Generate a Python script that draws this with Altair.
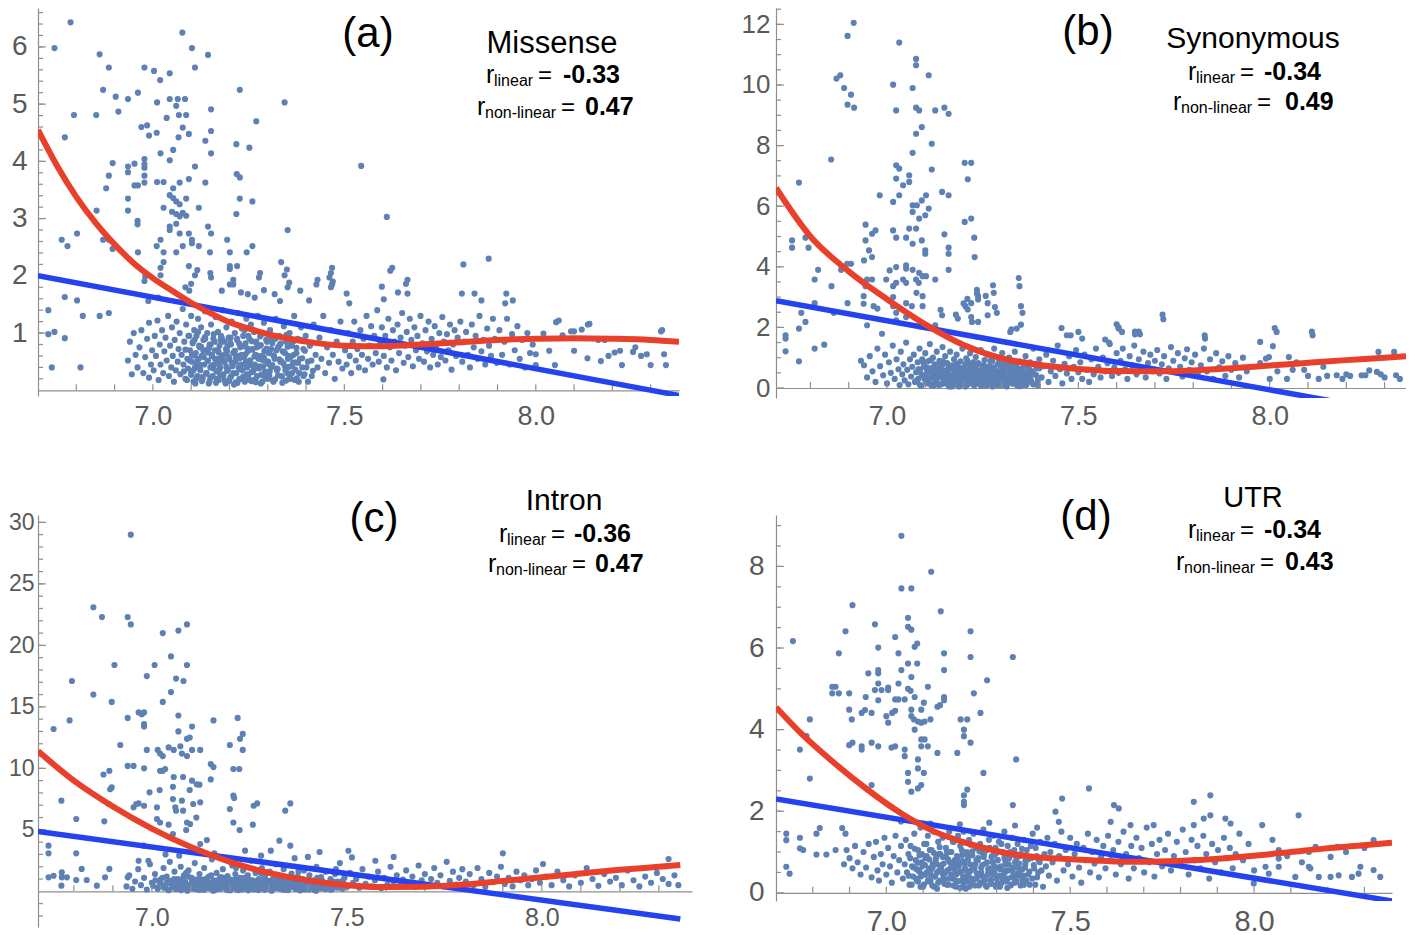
import altair as alt
import pandas as pd

FONT = "Liberation Sans"
PT_COLOR = "#5E81B5"
RED = "#E8402B"
BLUE = "#2442F0"
AXIS = "#8f8f8f"
LABEL = "#5a5a5a"

X_LABELS = [7.0, 7.5, 8.0]
X_MINOR = [6.8, 6.9, 7.0, 7.1, 7.2, 7.3, 7.4, 7.5, 7.6, 7.7, 7.8, 7.9, 8.0, 8.1, 8.2, 8.3]

# ---------------- panel (a) Missense ----------------
A_YLABELS = [1, 2, 3, 4, 5, 6]
A_YTICKS = [0.2, 0.4, 0.6, 0.8, 1, 1.2, 1.4, 1.6, 1.8, 2, 2.2, 2.4, 2.6, 2.8, 3, 3.2, 3.4, 3.6, 3.8, 4,
            4.2, 4.4, 4.6, 4.8, 5, 5.2, 5.4, 5.6, 5.8, 6, 6.2, 6.4, 6.6]
A_RED_X = [6.70, 6.75, 6.80, 6.85, 6.90, 6.95, 7.00, 7.05, 7.10, 7.15, 7.20, 7.25, 7.30, 7.35, 7.40, 7.50,
           7.60, 7.70, 7.80, 7.90, 8.00, 8.10, 8.20, 8.30, 8.374]
A_RED_Y = [4.55, 3.92, 3.38, 2.93, 2.55, 2.22, 1.96, 1.74, 1.53, 1.35, 1.19, 1.08, 0.98, 0.91, 0.85, 0.78,
           0.77, 0.80, 0.84, 0.88, 0.90, 0.91, 0.90, 0.88, 0.85]
A_BLUE_X = [6.70, 8.374]
A_BLUE_Y = [2.00, -0.09]
A_SPARSE = [
    (6.785, 6.43), (6.743, 5.98), (7.077, 6.25), (7.102, 5.98), (7.144, 5.86), (6.861, 5.87), (6.885, 5.64),
    (7.11, 5.64), (6.978, 5.64), (7.003, 5.58), (7.044, 5.54), (7.019, 5.42), (7.227, 5.25), (6.87, 5.25),
    (6.903, 5.13), (6.935, 5.09), (6.961, 5.2), (7.011, 5.03), (7.044, 5.09), (7.065, 5.09), (7.084, 5.09),
    (7.061, 4.97), (7.152, 4.91), (6.91, 4.87), (6.794, 4.81), (6.852, 4.81), (7.036, 4.76), (7.068, 4.81),
    (7.087, 4.81), (7.27, 4.7), (7.344, 5.03), (6.97, 4.6), (6.985, 4.63), (7.078, 4.59), (6.77, 4.42),
    (6.99, 4.45), (7.01, 4.5), (7.094, 4.48), (7.137, 4.36), (7.152, 4.53), (7.067, 4.42), (7.218, 4.3),
    (7.252, 4.24), (7.053, 4.2), (7.152, 4.14), (7.02, 4.14), (7.044, 4.02), (6.978, 4.04), (6.978, 3.95),
    (6.978, 3.89), (6.895, 3.97), (6.952, 3.96), (6.935, 3.91), (6.935, 3.81), (7.11, 3.91), (6.885, 3.75),
    (6.978, 3.75), (6.978, 3.63), (6.952, 3.58), (6.961, 3.58), (7.011, 3.64), (7.028, 3.64), (7.07, 3.63),
    (7.094, 3.69), (7.137, 3.63), (7.219, 3.78), (7.227, 3.72), (6.878, 3.53), (7.053, 3.53), (7.044, 3.41),
    (7.053, 3.36), (7.061, 3.3), (7.07, 3.25), (6.935, 3.35), (7.087, 3.35), (7.227, 3.35), (7.26, 3.3),
    (7.028, 3.19), (7.05, 3.12), (7.061, 3.08), (7.078, 3.1), (7.087, 3.05), (7.07, 3.04), (7.12, 3.19),
    (6.935, 3.14), (6.853, 3.14), (7.218, 3.08), (6.96, 2.96), (6.96, 2.9), (7.044, 2.86), (7.044, 2.8),
    (7.144, 2.86), (7.061, 2.91), (7.352, 2.8), (7.07, 2.74), (7.094, 2.74), (7.152, 2.74), (6.762, 2.63),
    (6.777, 2.52), (6.802, 2.74), (6.87, 2.63), (6.885, 2.63), (6.895, 2.47), (7.02, 2.63), (7.102, 2.63),
    (7.102, 2.57), (7.194, 2.63), (7.01, 2.52), (7.078, 2.52), (7.12, 2.52), (7.26, 2.52), (7.028, 2.41),
    (6.961, 2.41), (7.061, 2.41), (7.149, 2.41), (7.201, 2.41), (7.245, 2.41), (7.028, 2.24), (7.201, 2.17),
    (7.201, 2.12), (7.468, 2.14), (7.335, 2.24), (7.094, 2.17), (7.02, 2.01), (7.11, 2.01), (7.152, 1.97),
    (7.277, 1.97), (7.344, 2.01), (7.461, 1.97), (6.978, 1.91), (7.201, 1.85), (7.21, 1.85), (7.352, 1.8),
    (7.427, 1.85), (7.468, 1.85), (6.77, 1.63), (6.802, 1.57), (6.727, 1.4), (6.817, 1.3), (6.861, 1.3),
    (6.885, 1.35), (6.727, 0.98), (6.743, 1.02), (6.77, 0.91), (6.736, 0.4), (6.811, 0.4),
    (7.544, 3.92), (7.611, 3.03), (7.62, 2.09), (7.811, 2.2), (7.877, 2.3), (7.661, 1.86), (7.602, 0.19),
    (6.98, 1.99), (7.02, 2.14), (7.116, 2.1), (7.15, 2.05), (7.22, 2.17), (7.28, 2.05), (7.35, 2.11),
    (7.465, 2.05), (7.47, 1.9), (7.625, 2.14), (7.665, 1.93), (7.43, 1.93), (7.356, 1.88), (7.21, 1.93),
    (7.1, 1.86), (7.085, 1.8), (7.18, 1.74), (7.23, 1.71), (7.29, 1.75), (7.318, 1.68), (7.385, 1.74),
    (7.465, 1.8), (7.506, 1.69), (7.598, 1.81), (7.64, 1.71), (7.665, 1.69), (7.807, 1.69), (7.84, 1.69),
    (7.923, 1.69), (7.94, 1.57), (7.92, 1.52), (7.858, 1.57), (7.603, 1.59), (7.513, 1.52), (7.408, 1.57),
    (7.332, 1.56), (7.266, 1.62), (7.248, 1.68), (6.988, 1.56), (7.014, 1.62), (7.095, 1.74),
]
A_RIGHT = [
    (8.06, 1.22), (8.14, 1.16), (8.10, 1.03), (8.12, 1.06), (8.07, 0.96), (8.02, 0.99), (8.035, 0.69),
    (8.05, 0.44), (8.0, 0.44), (8.0, 0.63), (8.10, 0.69), (8.135, 0.56), (8.17, 0.51), (8.163, 0.88),
    (8.18, 0.88), (8.206, 0.66), (8.22, 0.69), (8.225, 0.44), (8.26, 0.75), (8.275, 0.6), (8.29, 0.63),
    (8.33, 1.05), (8.335, 0.63), (8.34, 0.44), (8.3, 0.44), (8.053, 1.19), (8.136, 1.15), (8.092, 1.03),
    (8.19, 0.6), (8.254, 0.67), (8.327, 1.03),
]
A_CLOUD = [
    (6.935, 0.52), (6.94, 0.85), (6.945, 0.28), (6.95, 1.0), (6.955, 0.62), (6.96, 0.4), (6.965, 0.75),
    (6.97, 1.05), (6.975, 0.3), (6.98, 0.58), (6.985, 0.9), (6.99, 0.22), (6.99, 1.18), (6.995, 0.45),
    (6.998, 0.7), (7.002, 0.35), (7.005, 0.95), (7.008, 0.6), (7.012, 1.22), (7.015, 0.18), (7.018, 0.8),
    (7.02, 0.45), (7.024, 1.05), (7.027, 0.3), (7.03, 0.68), (7.033, 0.92), (7.036, 0.52), (7.04, 1.3),
    (7.042, 0.25), (7.045, 0.78), (7.048, 0.4), (7.05, 1.1), (7.052, 0.6), (7.055, 0.15), (7.057, 0.88),
    (7.06, 0.35), (7.062, 1.2), (7.065, 0.5), (7.067, 0.72), (7.07, 1.0), (7.072, 0.28), (7.075, 0.62),
    (7.078, 1.42), (7.08, 0.45), (7.082, 0.85), (7.085, 0.2), (7.087, 1.15), (7.09, 0.55), (7.092, 0.38),
    (7.095, 0.95), (7.097, 0.7), (7.1, 0.3), (7.1, 1.3), (7.102, 0.5), (7.104, 0.82), (7.106, 0.15),
    (7.108, 1.05), (7.11, 0.4), (7.112, 0.65), (7.114, 0.95), (7.116, 0.25), (7.118, 1.25), (7.12, 0.55),
    (7.122, 0.75), (7.124, 0.35), (7.126, 1.1), (7.128, 0.6), (7.13, 0.2), (7.132, 0.88), (7.134, 0.45),
    (7.136, 1.38), (7.138, 0.7), (7.14, 0.3), (7.142, 1.0), (7.144, 0.52), (7.146, 0.12), (7.148, 0.8),
    (7.15, 0.4), (7.152, 1.15), (7.154, 0.62), (7.156, 0.25), (7.158, 0.9), (7.16, 0.45), (7.162, 0.7),
    (7.164, 1.28), (7.166, 0.33), (7.168, 0.55), (7.17, 1.02), (7.172, 0.18), (7.174, 0.78), (7.176, 0.4),
    (7.178, 0.95), (7.18, 0.6), (7.182, 1.4), (7.184, 0.28), (7.186, 0.85), (7.188, 0.5), (7.19, 0.12),
    (7.192, 1.1), (7.194, 0.68), (7.196, 0.36), (7.198, 0.92), (7.2, 0.55), (7.202, 0.22), (7.204, 0.8),
    (7.206, 1.2), (7.208, 0.42), (7.21, 0.65), (7.212, 0.1), (7.214, 1.0), (7.216, 0.5), (7.218, 0.3),
    (7.22, 0.88), (7.222, 1.35), (7.224, 0.6), (7.226, 0.2), (7.228, 0.75), (7.23, 0.45), (7.232, 1.08),
    (7.234, 0.35), (7.236, 0.95), (7.238, 0.58), (7.24, 0.15), (7.242, 0.82), (7.244, 1.25), (7.246, 0.4),
    (7.248, 0.68), (7.25, 0.27), (7.252, 0.9), (7.254, 0.52), (7.256, 1.15), (7.258, 0.32), (7.26, 0.72),
    (7.262, 0.18), (7.264, 1.02), (7.266, 0.45), (7.268, 0.62), (7.27, 0.85), (7.272, 0.25), (7.274, 1.3),
    (7.276, 0.55), (7.278, 0.38), (7.28, 0.78), (7.282, 0.12), (7.284, 0.98), (7.286, 0.6), (7.288, 0.42),
    (7.29, 1.18), (7.292, 0.28), (7.294, 0.7), (7.296, 0.88), (7.298, 0.5), (7.3, 0.2), (7.303, 0.65),
    (7.306, 1.05), (7.309, 0.4), (7.312, 0.82), (7.315, 0.15), (7.318, 0.55), (7.321, 1.25), (7.324, 0.35),
    (7.327, 0.75), (7.33, 0.95), (7.333, 0.5), (7.336, 0.25), (7.339, 0.68), (7.342, 1.12), (7.345, 0.42),
    (7.348, 0.85), (7.351, 0.3), (7.354, 0.6), (7.357, 1.0), (7.36, 0.2), (7.363, 0.78), (7.366, 0.48),
    (7.369, 1.3), (7.372, 0.36), (7.375, 0.65), (7.378, 0.9), (7.381, 0.15), (7.384, 0.55), (7.387, 1.1),
    (7.39, 0.4), (7.393, 0.72), (7.396, 0.28), (7.399, 0.95), (7.405, 0.5), (7.41, 0.8), (7.415, 0.25),
    (7.42, 1.15), (7.425, 0.62), (7.43, 0.4), (7.435, 0.92), (7.44, 0.55), (7.445, 1.3), (7.45, 0.3),
    (7.455, 0.75), (7.46, 0.48), (7.465, 1.05), (7.47, 0.62), (7.475, 0.2), (7.48, 0.85), (7.485, 0.5),
    (7.49, 1.2), (7.495, 0.38), (7.502, 0.7), (7.506, 0.45), (7.51, 1.0), (7.514, 0.6), (7.518, 0.3),
    (7.522, 0.85), (7.526, 1.2), (7.53, 0.52), (7.534, 0.72), (7.538, 0.4), (7.542, 1.05), (7.546, 0.62),
    (7.55, 0.9), (7.554, 0.35), (7.558, 1.3), (7.562, 0.55), (7.566, 0.78), (7.57, 1.12), (7.574, 0.45),
    (7.578, 0.95), (7.582, 0.65), (7.586, 1.4), (7.59, 0.5), (7.594, 0.82), (7.598, 1.1), (7.603, 0.6),
    (7.607, 0.95), (7.611, 0.4), (7.615, 1.25), (7.619, 0.75), (7.623, 0.52), (7.627, 1.05), (7.631, 0.85),
    (7.635, 0.35), (7.639, 1.15), (7.643, 0.65), (7.647, 0.92), (7.651, 1.35), (7.655, 0.48), (7.659, 0.78),
    (7.663, 1.02), (7.667, 0.58), (7.671, 1.25), (7.675, 0.88), (7.679, 0.42), (7.683, 1.1), (7.687, 0.7),
    (7.691, 0.95), (7.695, 0.55), (7.699, 1.3), (7.704, 0.82), (7.708, 0.5), (7.712, 1.05), (7.716, 0.68),
    (7.72, 1.2), (7.724, 0.4), (7.728, 0.9), (7.732, 0.62), (7.736, 1.12), (7.74, 0.78), (7.744, 0.45),
    (7.748, 1.0), (7.752, 0.58), (7.756, 1.28), (7.76, 0.85), (7.764, 0.52), (7.768, 0.98), (7.772, 0.7),
    (7.776, 1.15), (7.78, 0.36), (7.784, 0.8), (7.788, 1.05), (7.792, 0.6), (7.796, 0.92), (7.803, 1.2),
    (7.808, 0.5), (7.813, 0.85), (7.818, 1.02), (7.823, 0.62), (7.828, 0.4), (7.833, 1.15), (7.838, 0.75),
    (7.843, 0.95), (7.848, 0.55), (7.853, 1.3), (7.858, 0.68), (7.863, 0.88), (7.868, 0.45), (7.873, 1.08),
    (7.878, 0.78), (7.883, 0.6), (7.888, 1.25), (7.893, 0.9), (7.898, 0.48), (7.905, 1.05), (7.912, 0.62),
    (7.918, 0.85), (7.925, 1.25), (7.932, 0.45), (7.938, 0.98), (7.945, 0.7), (7.952, 1.12), (7.958, 0.55),
    (7.965, 0.88), (7.972, 0.4), (7.978, 1.0), (7.985, 0.65), (7.992, 0.8),
]
A_CORE = [
    (7.081, 0.33), (7.085, 0.71), (7.089, 0.18), (7.093, 0.95), (7.096, 0.52), (7.1, 0.27), (7.104, 0.84),
    (7.107, 0.61), (7.111, 0.12), (7.115, 0.47), (7.118, 1.02), (7.122, 0.39), (7.126, 0.76), (7.129, 0.23),
    (7.133, 0.58), (7.137, 0.9), (7.14, 0.3), (7.144, 0.66), (7.148, 0.15), (7.151, 0.8), (7.155, 0.43),
    (7.159, 0.98), (7.162, 0.55), (7.166, 0.2), (7.17, 0.7), (7.173, 0.36), (7.177, 0.88), (7.181, 0.5),
    (7.184, 0.25), (7.188, 0.63), (7.192, 0.41), (7.195, 0.77), (7.199, 0.16), (7.203, 0.92), (7.206, 0.48),
    (7.21, 0.3), (7.214, 0.69), (7.217, 0.57), (7.221, 0.13), (7.225, 0.82), (7.228, 0.37), (7.232, 0.62),
    (7.236, 0.24), (7.239, 1.05), (7.243, 0.5), (7.247, 0.73), (7.25, 0.19), (7.254, 0.44), (7.258, 0.86),
    (7.261, 0.32), (7.265, 0.59), (7.269, 0.14), (7.272, 0.75), (7.276, 0.4), (7.28, 0.94), (7.283, 0.27),
    (7.287, 0.53), (7.291, 0.68), (7.294, 0.21), (7.298, 0.85), (7.302, 0.46), (7.305, 0.33), (7.309, 0.72),
    (7.313, 0.17), (7.316, 0.6), (7.32, 0.9), (7.324, 0.38), (7.327, 0.26), (7.331, 0.79), (7.335, 0.51),
    (7.338, 0.13), (7.342, 0.67), (7.346, 0.35), (7.349, 0.97), (7.353, 0.55), (7.357, 0.22), (7.36, 0.8),
    (7.364, 0.43), (7.368, 0.62), (7.371, 0.18), (7.375, 0.74), (7.379, 0.48), (7.382, 0.3), (7.386, 0.88),
    (7.39, 0.56), (7.393, 0.25), (7.397, 0.69), (7.401, 0.4), (7.405, 0.15), (7.41, 0.78), (7.414, 0.52),
    (7.418, 0.34),
]
A_CORE2 = [
    (7.102, 0.62), (7.106, 0.35), (7.109, 0.88), (7.113, 0.2), (7.117, 0.55), (7.121, 0.78), (7.124, 0.44),
    (7.128, 0.16), (7.132, 0.69), (7.136, 0.93), (7.139, 0.29), (7.143, 0.51), (7.147, 0.74), (7.15, 0.22),
    (7.154, 0.6), (7.158, 0.38), (7.161, 0.85), (7.165, 0.13), (7.169, 0.47), (7.172, 0.66), (7.176, 0.27),
    (7.18, 0.91), (7.183, 0.53), (7.187, 0.17), (7.191, 0.72), (7.194, 0.34), (7.198, 0.58), (7.202, 0.83),
    (7.205, 0.25), (7.209, 0.46), (7.213, 0.68), (7.216, 0.14), (7.22, 0.9), (7.224, 0.4), (7.227, 0.56),
    (7.231, 0.2), (7.235, 0.77), (7.238, 0.45), (7.242, 0.63), (7.246, 0.28), (7.249, 0.95), (7.253, 0.52),
    (7.257, 0.16), (7.26, 0.71), (7.264, 0.36), (7.268, 0.84), (7.271, 0.23), (7.275, 0.6), (7.279, 0.42),
    (7.282, 0.79), (7.286, 0.15), (7.29, 0.57), (7.293, 0.33), (7.297, 0.73), (7.301, 0.5), (7.304, 0.26),
    (7.308, 0.88), (7.312, 0.44), (7.315, 0.61), (7.319, 0.19), (7.323, 0.7), (7.326, 0.37), (7.33, 0.54),
    (7.334, 0.82), (7.337, 0.24), (7.341, 0.47), (7.345, 0.65), (7.348, 0.17), (7.352, 0.76), (7.356, 0.41),
    (7.36, 0.58), (7.364, 0.3), (7.368, 0.86), (7.372, 0.49), (7.376, 0.21),
]

# ---------------- panel (b) Synonymous ----------------
B_YLABELS = [0, 2, 4, 6, 8, 10, 12]
B_YTICKS = [0.5, 1, 1.5, 2, 2.5, 3, 3.5, 4, 4.5, 5, 5.5, 6, 6.5, 7, 7.5, 8, 8.5, 9, 9.5, 10, 10.5, 11, 11.5,
            12, 12.5]
B_RED_X = [6.71, 6.80, 6.90, 7.00, 7.10, 7.20, 7.30, 7.40, 7.50, 7.60, 7.70, 7.80, 7.90, 8.00, 8.10, 8.20,
           8.30, 8.356]
B_RED_Y = [6.6, 5.0, 3.85, 2.93, 2.1, 1.42, 0.98, 0.76, 0.63, 0.56, 0.55, 0.58, 0.65, 0.74, 0.83, 0.92,
           1.0, 1.05]
B_BLUE_X = [6.71, 8.356]
B_BLUE_Y = [2.88, -0.87]
B_SPARSE = [
    (6.913, 12.05), (6.897, 11.62), (7.032, 11.4), (7.076, 10.86), (7.076, 10.65), (7.109, 10.32),
    (6.868, 10.21), (6.878, 10.32), (7.016, 10.01), (6.888, 9.9), (7.067, 9.9), (6.906, 9.68), (6.897, 9.35),
    (6.914, 9.25), (7.024, 9.16), (7.076, 9.25), (7.084, 9.16), (7.126, 9.16), (7.15, 9.25), (7.161, 9.05),
    (7.091, 8.61), (7.076, 8.39), (7.117, 8.06), (7.067, 7.76), (6.854, 7.54), (7.203, 7.43), (7.22, 7.43),
    (7.024, 7.35), (7.032, 7.24), (7.117, 7.21), (7.211, 6.89), (7.058, 7.02), (7.058, 6.8), (7.042, 6.69),
    (6.77, 6.78), (7.024, 6.91), (7.144, 6.47), (7.161, 6.36), (6.981, 6.36), (7.016, 6.14), (7.032, 6.36),
    (7.067, 6.03), (7.078, 6.03), (7.091, 6.19), (7.102, 6.36), (7.109, 5.92), (7.067, 5.81), (7.084, 5.59),
    (7.1, 5.7), (7.203, 5.48), (7.22, 5.59), (6.944, 5.39), (7.058, 5.26), (7.076, 5.26), (6.787, 4.96),
    (6.752, 4.87), (6.752, 4.63), (6.944, 4.87), (6.961, 5.09), (6.97, 5.2), (7.016, 5.2), (7.024, 4.96),
    (7.05, 4.96), (7.15, 5.07), (7.228, 4.96), (6.795, 4.63), (6.953, 4.54), (6.961, 4.32), (7.067, 4.76),
    (7.091, 4.87), (7.1, 4.54), (7.1, 4.43), (7.161, 4.63), (7.161, 4.43), (7.229, 4.32), (7.007, 3.88),
    (7.024, 3.99), (7.05, 4.05), (7.05, 3.94), (6.94, 4.21), (6.896, 4.1), (6.906, 4.1), (6.88, 3.9),
    (6.811, 3.58), (6.82, 3.9), (6.855, 3.36), (6.948, 3.58), (6.961, 3.58), (6.998, 3.58), (7.024, 3.47),
    (7.042, 3.58), (7.05, 3.47), (7.067, 3.9), (7.084, 3.8), (7.093, 3.69), (7.102, 3.69), (7.076, 3.58),
    (7.083, 3.47), (7.161, 3.9), (7.126, 3.58), (6.944, 3.36), (7.016, 3.36), (7.077, 3.14), (7.093, 3.03),
    (6.939, 3.03), (6.939, 2.78), (7.016, 3.0), (7.238, 3.03), (7.238, 2.92), (7.279, 3.14), (7.263, 2.8),
    (7.346, 3.36), (7.354, 2.48), (6.811, 2.8), (6.897, 2.8), (6.965, 2.7), (6.975, 2.62), (7.016, 2.7),
    (7.05, 2.8), (7.065, 2.7), (7.093, 2.7), (7.205, 2.7), (7.211, 2.59), (7.22, 2.8), (7.287, 2.48),
    (6.776, 2.48), (6.787, 2.18), (6.77, 1.96), (6.735, 1.74), (6.735, 1.63), (6.735, 1.21), (6.77, 0.88),
    (6.811, 1.3), (6.836, 1.43), (6.861, 2.48), (6.948, 2.07), (6.987, 1.79), (7.024, 2.48), (7.024, 2.23),
    (7.05, 2.34), (7.144, 2.4), (7.185, 2.29), (7.222, 2.18), (7.238, 2.18), (7.263, 2.4), (7.322, 1.85),
    (7.339, 1.96), (7.126, 2.07), (7.722, 2.27), (7.605, 1.96), (7.614, 1.85), (7.648, 1.77), (7.661, 1.77),
    (7.831, 1.63), (7.57, 1.6), (7.58, 1.5), (7.51, 1.63), (7.50, 1.85), (7.344, 3.63), (7.35, 2.7),
    (7.277, 3.39), (7.258, 3.04), (7.235, 3.24), (7.235, 3.12), (7.2, 2.79), (7.21, 2.94), (7.22, 2.34),
    (7.14, 2.58), (7.18, 2.42), (7.282, 2.67), (7.325, 1.94), (7.35, 2.09), (7.456, 1.98), (7.47, 1.74),
    (7.48, 1.74), (7.6, 2.1), (7.605, 2.0), (7.648, 1.86), (7.658, 1.86), (7.72, 2.42), (7.83, 1.74),
    (8.013, 1.98), (8.11, 1.86),
]
B_CLOUD = [
    (6.932, 0.9), (6.94, 0.75), (6.948, 0.35), (6.955, 1.05), (6.962, 0.55), (6.97, 0.2), (6.975, 1.3),
    (6.982, 0.72), (6.99, 0.42), (6.995, 1.1), (7.0, 0.15), (7.005, 0.85), (7.01, 0.5), (7.015, 1.4),
    (7.02, 0.3), (7.025, 0.95), (7.03, 0.62), (7.033, 0.1), (7.036, 1.2), (7.04, 0.45), (7.043, 0.78),
    (7.046, 0.25), (7.05, 1.5), (7.053, 0.6), (7.056, 0.12), (7.06, 0.95), (7.063, 0.38), (7.066, 0.7),
    (7.07, 1.1), (7.073, 0.2), (7.076, 0.52), (7.08, 0.85), (7.082, 0.3), (7.085, 1.3), (7.087, 0.62),
    (7.09, 0.08), (7.092, 0.95), (7.095, 0.42), (7.097, 0.72), (7.1, 1.15), (7.102, 0.2), (7.105, 0.55),
    (7.107, 0.88), (7.11, 0.32), (7.112, 1.45), (7.115, 0.65), (7.117, 0.12), (7.12, 1.0), (7.122, 0.45),
    (7.125, 0.78), (7.127, 0.25), (7.13, 1.2), (7.132, 0.58), (7.135, 0.1), (7.137, 0.9), (7.14, 0.38),
    (7.142, 0.7), (7.145, 1.35), (7.147, 0.18), (7.15, 0.5), (7.152, 1.05), (7.155, 0.3), (7.157, 0.82),
    (7.16, 0.6), (7.162, 0.05), (7.165, 1.2), (7.167, 0.42), (7.17, 0.75), (7.172, 0.22), (7.175, 0.95),
    (7.177, 0.55), (7.18, 0.12), (7.182, 1.1), (7.185, 0.35), (7.187, 0.68), (7.19, 0.15), (7.192, 0.88),
    (7.195, 0.48), (7.197, 1.3), (7.2, 0.28), (7.202, 0.62), (7.205, 0.05), (7.207, 0.98), (7.21, 0.4),
    (7.212, 0.78), (7.215, 0.18), (7.217, 1.15), (7.22, 0.55), (7.222, 0.32), (7.225, 0.85), (7.227, 0.1),
    (7.23, 0.68), (7.232, 1.02), (7.235, 0.25), (7.237, 0.5), (7.24, 0.8), (7.242, 0.12), (7.245, 1.25),
    (7.247, 0.4), (7.25, 0.65), (7.252, 0.2), (7.255, 0.92), (7.257, 0.52), (7.26, 0.08), (7.262, 1.1),
    (7.265, 0.35), (7.267, 0.72), (7.27, 0.45), (7.272, 0.18), (7.275, 0.88), (7.277, 0.6), (7.28, 1.3),
    (7.283, 0.28), (7.286, 0.55), (7.289, 0.1), (7.292, 0.95), (7.295, 0.4), (7.298, 0.7), (7.301, 1.15),
    (7.304, 0.2), (7.307, 0.5), (7.31, 0.82), (7.313, 0.05), (7.316, 0.62), (7.319, 1.0), (7.322, 0.32),
    (7.325, 0.75), (7.328, 0.15), (7.331, 0.45), (7.334, 1.2), (7.338, 0.58), (7.342, 0.25), (7.346, 0.88),
    (7.35, 0.42), (7.354, 0.1), (7.358, 0.7), (7.362, 1.05), (7.366, 0.3), (7.37, 0.52), (7.374, 0.85),
    (7.378, 0.18), (7.382, 1.3), (7.386, 0.45), (7.39, 0.65), (7.394, 0.08), (7.398, 0.95), (7.404, 0.35),
    (7.41, 0.72), (7.416, 1.1), (7.422, 0.2), (7.428, 0.55), (7.434, 0.9), (7.44, 0.4), (7.446, 1.4),
    (7.452, 0.62), (7.458, 0.15), (7.464, 0.8), (7.47, 0.48), (7.476, 1.05), (7.482, 0.3), (7.488, 0.7),
    (7.494, 1.25), (7.5, 0.52), (7.505, 0.85), (7.51, 0.3), (7.516, 1.1), (7.522, 0.6), (7.528, 0.2),
    (7.534, 0.95), (7.54, 0.45), (7.546, 1.3), (7.552, 0.7), (7.558, 0.35), (7.564, 1.0), (7.57, 0.55),
    (7.576, 0.82), (7.582, 1.45), (7.588, 0.4), (7.594, 0.68), (7.6, 1.15), (7.605, 0.5), (7.61, 0.9),
    (7.616, 1.3), (7.622, 0.62), (7.628, 0.3), (7.634, 1.05), (7.64, 0.75), (7.646, 1.4), (7.652, 0.45),
    (7.658, 0.95), (7.664, 0.6), (7.67, 1.2), (7.676, 0.35), (7.682, 0.82), (7.688, 1.1), (7.694, 0.55),
    (7.7, 0.9), (7.706, 1.25), (7.712, 0.48), (7.718, 0.78), (7.724, 1.05), (7.73, 0.3), (7.736, 0.65),
    (7.742, 1.35), (7.748, 0.9), (7.754, 0.52), (7.76, 1.15), (7.766, 0.7), (7.772, 0.38), (7.778, 0.98),
    (7.784, 1.28), (7.79, 0.6), (7.796, 0.85), (7.805, 1.1), (7.812, 0.45), (7.82, 0.75), (7.828, 1.3),
    (7.836, 0.55), (7.844, 0.95), (7.852, 0.3), (7.86, 1.15), (7.868, 0.68), (7.876, 0.88), (7.884, 0.4),
    (7.892, 1.05), (7.9, 0.6), (7.91, 0.82), (7.92, 0.35), (7.93, 1.0), (7.94, 0.55), (7.975, 0.82),
    (7.99, 0.97), (7.975, 1.52), (8.0, 0.3), (8.02, 0.55), (8.045, 0.3), (8.06, 0.6), (8.09, 0.6), (8.1, 0.4),
    (8.128, 0.3), (8.15, 0.4), (8.175, 0.42), (8.19, 0.3), (8.2, 0.45), (8.21, 0.4), (8.24, 0.42),
    (8.25, 0.42), (8.26, 0.58), (8.28, 0.53), (8.29, 0.45), (8.33, 0.42), (8.284, 1.19), (8.325, 1.19),
    (8.018, 1.85), (8.112, 1.74), (8.05, 1.02), (7.998, 1.02), (8.008, 1.38), (8.07, 0.85), (8.14, 0.7),
    (8.3, 0.35), (8.34, 0.3),
]
B_CORE = [
    (7.078, 0.25), (7.082, 0.62), (7.086, 0.1), (7.09, 0.45), (7.094, 0.85), (7.098, 0.3), (7.102, 0.68),
    (7.106, 0.15), (7.11, 0.52), (7.114, 0.92), (7.118, 0.38), (7.122, 0.08), (7.126, 0.6), (7.13, 0.27),
    (7.134, 0.75), (7.138, 0.45), (7.142, 0.12), (7.146, 0.88), (7.15, 0.33), (7.154, 0.58), (7.158, 0.2),
    (7.162, 0.7), (7.166, 0.42), (7.17, 0.05), (7.174, 0.62), (7.178, 0.3), (7.182, 0.8), (7.186, 0.5),
    (7.19, 0.22), (7.194, 0.65), (7.198, 0.4), (7.202, 0.1), (7.206, 0.55), (7.21, 0.9), (7.214, 0.28),
    (7.218, 0.7), (7.222, 0.45), (7.226, 0.15), (7.23, 0.6), (7.234, 0.35), (7.238, 0.82), (7.242, 0.5),
    (7.246, 0.07), (7.25, 0.42), (7.254, 0.72), (7.258, 0.25), (7.262, 0.58), (7.266, 0.12), (7.27, 0.9),
    (7.274, 0.38), (7.278, 0.62), (7.282, 0.2), (7.286, 0.48), (7.29, 0.78), (7.294, 0.3), (7.298, 0.1),
    (7.302, 0.55), (7.306, 0.35), (7.31, 0.68), (7.314, 0.22), (7.318, 0.85), (7.322, 0.45), (7.326, 0.6),
    (7.33, 0.15), (7.334, 0.38), (7.338, 0.72), (7.342, 0.5), (7.346, 0.06), (7.35, 0.62), (7.354, 0.3),
    (7.358, 0.85), (7.362, 0.45), (7.366, 0.18), (7.37, 0.7), (7.374, 0.38), (7.378, 0.55), (7.382, 0.12),
    (7.386, 0.8), (7.39, 0.42), (7.394, 0.25), (7.398, 0.65),
]
B_CORE2 = [
    (7.1, 0.4), (7.104, 0.18), (7.108, 0.65), (7.112, 0.3), (7.116, 0.08), (7.12, 0.52), (7.124, 0.75),
    (7.128, 0.22), (7.132, 0.45), (7.136, 0.12), (7.14, 0.6), (7.144, 0.35), (7.148, 0.8), (7.152, 0.15),
    (7.156, 0.48), (7.16, 0.28), (7.164, 0.68), (7.168, 0.1), (7.172, 0.4), (7.176, 0.58), (7.18, 0.25),
    (7.184, 0.72), (7.188, 0.05), (7.192, 0.35), (7.196, 0.55), (7.2, 0.18), (7.204, 0.78), (7.208, 0.42),
    (7.212, 0.12), (7.216, 0.62), (7.22, 0.3), (7.224, 0.5), (7.228, 0.08), (7.232, 0.7), (7.236, 0.38),
    (7.24, 0.2), (7.244, 0.58), (7.248, 0.32), (7.252, 0.75), (7.256, 0.1), (7.26, 0.45), (7.264, 0.62),
    (7.268, 0.25), (7.272, 0.52), (7.276, 0.05), (7.28, 0.68), (7.284, 0.35), (7.288, 0.15), (7.292, 0.55),
    (7.296, 0.8), (7.3, 0.28), (7.304, 0.45), (7.308, 0.1), (7.312, 0.62), (7.316, 0.38), (7.32, 0.18),
    (7.324, 0.72), (7.328, 0.42), (7.332, 0.25), (7.336, 0.58), (7.34, 0.08), (7.344, 0.48), (7.348, 0.3),
    (7.352, 0.65), (7.356, 0.2), (7.36, 0.52), (7.364, 0.1), (7.368, 0.4), (7.372, 0.6), (7.376, 0.25),
]

# ---------------- panel (c) Intron ----------------
C_YLABELS = [5, 10, 15, 20, 25, 30]
C_YTICKS = [-2, -1, 1, 2, 3, 4, 5, 6, 7, 8, 9, 10, 11, 12, 13, 14, 15, 16, 17, 18, 19, 20, 21, 22, 23, 24,
            25, 26, 27, 28, 29, 30]
C_RED_X = [6.708, 6.80, 6.90, 7.00, 7.10, 7.20, 7.30, 7.40, 7.50, 7.60, 7.70, 7.80, 7.90, 8.00, 8.10, 8.20,
           8.30, 8.355]
C_RED_Y = [11.4, 9.0, 6.9, 5.1, 3.6, 2.4, 1.5, 0.9, 0.5, 0.35, 0.38, 0.55, 0.85, 1.15, 1.45, 1.75, 2.0, 2.15]
C_BLUE_X = [6.708, 8.355]
C_BLUE_Y = [4.87, -2.25]
C_SPARSE = [
    (6.946, 29.0), (6.85, 23.1), (6.872, 22.3), (6.938, 22.3), (6.946, 21.7), (7.09, 21.7), (7.068, 21.2),
    (7.028, 21.0), (7.049, 19.1), (6.904, 18.4), (7.007, 18.4), (7.09, 18.4), (7.062, 17.3), (7.081, 17.1),
    (6.795, 17.1), (6.987, 17.5), (7.049, 16.2), (6.85, 16.0), (7.028, 15.4), (6.897, 15.4), (6.789, 13.9),
    (6.748, 13.2), (6.938, 14.1), (6.966, 14.55), (6.974, 14.4), (6.98, 14.55), (6.98, 13.6), (6.98, 13.4),
    (7.068, 14.3), (7.103, 13.4), (7.158, 13.9), (7.22, 14.1), (7.226, 12.4), (7.233, 12.8), (7.09, 12.4),
    (7.097, 12.5), (7.068, 13.0), (7.043, 11.7), (7.056, 11.5), (7.073, 11.8), (7.077, 11.2), (7.09, 11.0),
    (7.103, 11.5), (7.124, 11.5), (7.2, 11.9), (7.233, 11.5), (6.919, 11.9), (6.987, 11.5), (7.015, 11.5),
    (7.021, 11.2), (7.028, 11.0), (7.021, 9.8), (7.028, 9.8), (7.034, 9.95), (6.938, 10.2), (6.953, 10.2),
    (6.98, 10.0), (7.056, 9.3), (7.08, 9.3), (7.103, 9.0), (7.115, 8.7), (7.151, 10.35), (7.158, 10.1),
    (7.151, 9.1), (7.209, 9.95), (7.224, 9.95), (6.876, 9.5), (6.891, 9.8), (6.893, 8.3), (6.897, 8.45),
    (6.994, 8.05), (7.02, 8.24), (7.054, 8.5), (7.097, 8.24), (7.122, 8.67), (7.054, 7.5), (7.077, 7.37),
    (7.06, 6.83), (7.062, 6.56), (7.08, 6.56), (7.106, 7.1), (7.124, 7.24), (6.96, 7.1), (6.966, 7.15),
    (6.98, 6.96), (7.013, 6.83), (6.953, 6.83), (7.114, 6.0), (6.768, 7.37), (6.889, 7.1), (6.806, 5.88),
    (6.878, 5.69), (7.013, 5.88), (7.021, 5.6), (7.043, 5.42), (7.054, 4.66), (7.09, 5.6), (7.098, 5.47),
    (7.088, 4.99), (7.2, 6.69), (7.209, 7.78), (7.211, 7.59), (7.209, 5.6), (7.225, 4.99), (7.259, 5.42),
    (7.261, 6.96), (7.27, 7.15), (7.342, 6.56), (7.355, 7.15), (7.327, 4.12), (7.355, 3.71), (7.305, 3.31),
    (6.735, 3.71), (6.735, 3.09), (6.806, 3.09), (6.979, 3.71), (7.141, 4.17), (7.124, 3.85), (7.239, 3.31),
    (6.735, 1.14), (6.748, 1.27), (6.769, 1.54), (6.769, 1.14), (6.782, 1.14), (6.768, 0.46), (6.806, 0.92),
    (6.82, 1.82), (6.833, 0.92), (6.859, 0.46), (6.88, 1.14), (6.891, 1.82), (6.938, 1.14), (6.966, 2.49),
    (6.991, 2.49), (7.504, 3.3), (7.513, 2.76), (7.573, 2.49), (7.90, 3.09), (8.003, 2.22), (8.325, 2.63),
    (7.035, 3.0), (7.07, 2.9), (7.16, 3.1), (7.19, 2.7), (7.28, 2.9), (7.4, 2.8), (7.43, 3.2), (7.62, 2.8),
]
C_CLOUD = [
    (6.935, 0.4), (6.942, 1.3), (6.95, 0.2), (6.957, 0.8), (6.965, 1.8), (6.972, 0.5), (6.98, 1.1),
    (6.987, 0.15), (6.995, 2.2), (7.0, 0.7), (7.008, 1.4), (7.015, 0.3), (7.022, 0.95), (7.03, 1.9),
    (7.034, 0.5), (7.038, 1.2), (7.042, 0.1), (7.046, 2.4), (7.05, 0.8), (7.054, 0.35), (7.058, 1.6),
    (7.062, 0.6), (7.066, 1.0), (7.07, 0.2), (7.074, 2.0), (7.078, 0.45), (7.082, 1.3), (7.086, 0.75),
    (7.09, 0.1), (7.094, 1.7), (7.098, 0.55), (7.102, 1.1), (7.106, 0.3), (7.11, 2.3), (7.114, 0.8),
    (7.118, 0.15), (7.122, 1.4), (7.126, 0.5), (7.13, 0.95), (7.134, 1.9), (7.138, 0.25), (7.142, 0.7),
    (7.146, 1.2), (7.15, 0.4), (7.154, 2.6), (7.158, 0.9), (7.162, 0.1), (7.166, 1.5), (7.17, 0.6),
    (7.174, 1.05), (7.178, 0.3), (7.182, 1.8), (7.186, 0.75), (7.19, 0.2), (7.194, 1.25), (7.198, 0.5),
    (7.202, 0.95), (7.206, 2.1), (7.21, 0.35), (7.214, 1.4), (7.218, 0.65), (7.222, 0.1), (7.226, 1.1),
    (7.23, 0.45), (7.234, 1.7), (7.238, 0.8), (7.242, 0.25), (7.246, 1.3), (7.25, 0.55), (7.254, 2.5),
    (7.258, 0.9), (7.262, 0.15), (7.266, 1.5), (7.27, 0.6), (7.274, 1.0), (7.278, 0.3), (7.282, 1.9),
    (7.286, 0.7), (7.29, 1.2), (7.294, 0.4), (7.298, 0.85), (7.302, 1.6), (7.306, 0.2), (7.31, 1.0),
    (7.314, 0.5), (7.318, 2.2), (7.322, 0.75), (7.326, 1.3), (7.33, 0.3), (7.334, 0.9), (7.338, 1.8),
    (7.342, 0.45), (7.346, 1.1), (7.35, 0.15), (7.354, 0.65), (7.358, 1.45), (7.362, 0.35), (7.366, 2.7),
    (7.37, 0.8), (7.374, 1.2), (7.378, 0.5), (7.382, 0.1), (7.386, 1.0), (7.39, 1.7), (7.394, 0.6),
    (7.398, 0.3), (7.404, 1.3), (7.41, 0.5), (7.416, 0.9), (7.422, 2.0), (7.428, 0.25), (7.434, 1.15),
    (7.44, 0.7), (7.446, 1.6), (7.452, 0.4), (7.458, 1.0), (7.464, 0.2), (7.47, 1.4), (7.476, 0.8),
    (7.482, 2.3), (7.488, 0.55), (7.494, 1.1), (7.5, 0.35), (7.508, 1.5), (7.516, 0.7), (7.524, 1.0),
    (7.532, 0.3), (7.54, 1.8), (7.548, 0.6), (7.556, 1.2), (7.564, 0.4), (7.572, 0.9), (7.58, 1.6),
    (7.588, 0.25), (7.596, 1.1), (7.604, 0.55), (7.612, 2.0), (7.62, 0.8), (7.628, 1.3), (7.636, 0.45),
    (7.644, 0.95), (7.652, 1.7), (7.66, 0.6), (7.668, 1.2), (7.676, 0.35), (7.684, 2.1), (7.692, 0.9),
    (7.7, 1.4), (7.708, 0.5), (7.716, 1.0), (7.724, 1.9), (7.732, 0.7), (7.74, 1.3), (7.748, 0.4),
    (7.756, 2.4), (7.764, 0.85), (7.772, 1.6), (7.78, 0.55), (7.788, 1.1), (7.796, 1.8), (7.805, 0.8),
    (7.815, 1.4), (7.825, 0.5), (7.835, 1.9), (7.845, 1.0), (7.855, 0.35), (7.865, 1.5), (7.875, 0.75),
    (7.885, 1.2), (7.895, 2.0), (7.905, 0.6), (7.915, 1.1), (7.925, 0.4), (7.935, 1.6), (7.945, 0.9),
    (7.955, 1.3), (7.965, 0.5), (7.975, 1.0), (7.985, 1.7), (7.995, 0.7), (8.01, 1.2), (8.025, 0.5),
    (8.04, 1.6), (8.055, 0.9), (8.07, 0.4), (8.085, 1.3), (8.1, 0.7), (8.115, 1.9), (8.13, 1.0),
    (8.145, 0.45), (8.16, 1.4), (8.175, 0.8), (8.19, 1.1), (8.205, 0.5), (8.22, 1.7), (8.235, 0.9),
    (8.25, 0.4), (8.265, 1.2), (8.28, 0.7), (8.295, 1.5), (8.31, 1.0), (8.325, 0.6), (8.34, 1.3),
    (8.35, 0.5),
    (7.056, 0.9), (7.072, 0.4), (7.088, 1.5), (7.104, 0.65), (7.12, 1.0), (7.136, 0.35), (7.152, 1.3),
    (7.168, 0.2), (7.184, 1.1), (7.2, 0.6), (7.216, 1.9), (7.232, 0.3), (7.248, 0.95), (7.264, 0.5),
    (7.28, 1.45), (7.296, 0.2), (7.312, 0.7), (7.328, 1.2), (7.344, 0.4), (7.36, 0.9), (7.376, 1.6),
    (7.392, 0.2), (7.408, 0.75), (7.424, 1.1), (7.44, 0.3), (7.456, 0.6), (7.472, 1.8), (7.49, 0.9),
]
C_CORE = [
    (7.003, 0.45), (7.009, 0.9), (7.015, 0.2), (7.021, 0.65), (7.027, 1.1), (7.033, 0.35), (7.039, 0.75),
    (7.045, 0.15), (7.051, 0.55), (7.057, 1.0), (7.063, 0.3), (7.069, 0.7), (7.075, 0.1), (7.081, 0.85),
    (7.087, 0.45), (7.093, 1.2), (7.099, 0.25), (7.105, 0.6), (7.111, 0.95), (7.117, 0.4), (7.123, 0.12),
    (7.129, 0.78), (7.135, 0.5), (7.141, 1.05), (7.147, 0.28), (7.153, 0.68), (7.159, 0.18), (7.165, 0.88),
    (7.171, 0.42), (7.177, 1.15), (7.183, 0.6), (7.189, 0.3), (7.195, 0.8), (7.201, 0.08), (7.207, 0.5),
    (7.213, 0.95), (7.219, 0.35), (7.225, 0.72), (7.231, 0.15), (7.237, 1.1), (7.243, 0.45), (7.249, 0.62),
    (7.255, 0.25), (7.261, 0.85), (7.267, 0.4), (7.273, 0.1), (7.279, 0.7), (7.285, 0.98), (7.291, 0.3),
    (7.297, 0.55), (7.303, 0.18), (7.309, 0.82), (7.315, 0.45), (7.321, 1.05), (7.327, 0.28), (7.333, 0.65),
    (7.339, 0.12), (7.345, 0.9), (7.351, 0.5), (7.357, 0.35), (7.363, 0.75), (7.369, 0.2), (7.375, 1.0),
    (7.381, 0.45), (7.387, 0.62), (7.393, 0.15), (7.399, 0.85), (7.405, 0.38), (7.411, 0.58), (7.417, 0.1),
    (7.423, 0.78), (7.429, 0.48), (7.435, 0.95), (7.441, 0.25), (7.447, 0.65), (7.453, 0.4), (7.459, 0.12),
    (7.465, 0.8), (7.471, 0.5), (7.477, 0.3), (7.483, 0.7), (7.489, 0.2), (7.495, 0.55),
]
C_CORE2 = [
    (7.031, 0.3), (7.037, 0.62), (7.043, 0.1), (7.049, 0.85), (7.055, 0.4), (7.061, 0.18), (7.067, 0.55),
    (7.073, 0.95), (7.079, 0.25), (7.085, 0.7), (7.091, 0.05), (7.097, 0.48), (7.103, 0.82), (7.109, 0.2),
    (7.115, 0.6), (7.121, 0.35), (7.127, 0.92), (7.133, 0.12), (7.139, 0.45), (7.145, 0.72), (7.151, 0.3),
    (7.157, 0.05), (7.163, 0.58), (7.169, 0.85), (7.175, 0.22), (7.181, 0.4), (7.187, 0.68), (7.193, 0.1),
    (7.199, 0.52), (7.205, 0.3), (7.211, 0.78), (7.217, 0.15), (7.223, 0.45), (7.229, 0.9), (7.235, 0.25),
    (7.241, 0.6), (7.247, 0.08), (7.253, 0.38), (7.259, 0.7), (7.265, 0.2), (7.271, 0.55), (7.277, 0.32),
    (7.283, 0.85), (7.289, 0.12), (7.295, 0.42), (7.301, 0.65), (7.307, 0.05), (7.313, 0.5), (7.319, 0.28),
    (7.325, 0.75), (7.331, 0.18), (7.337, 0.48), (7.343, 0.6), (7.349, 0.1), (7.355, 0.38), (7.361, 0.82),
    (7.367, 0.25), (7.373, 0.55), (7.379, 0.08), (7.385, 0.45), (7.391, 0.7), (7.397, 0.3), (7.403, 0.15),
    (7.409, 0.6), (7.415, 0.4), (7.421, 0.05), (7.427, 0.55), (7.433, 0.3), (7.439, 0.75), (7.445, 0.18),
]

# ---------------- panel (d) UTR ----------------
D_YLABELS = [0, 2, 4, 6, 8]
D_YTICKS = [0.5, 1, 1.5, 2, 2.5, 3, 3.5, 4, 4.5, 5, 5.5, 6, 6.5, 7, 7.5, 8, 8.5, 9]
D_RED_X = [6.70, 6.769, 6.86, 6.95, 7.04, 7.131, 7.222, 7.312, 7.403, 7.49, 7.557, 7.652, 7.74, 7.833,
           7.92, 8.014, 8.10, 8.196, 8.29, 8.375]
D_RED_Y = [4.55, 3.9, 3.17, 2.52, 1.95, 1.5, 1.21, 1.0, 0.88, 0.83, 0.8, 0.76, 0.77, 0.8, 0.85, 0.92,
           1.0, 1.09, 1.16, 1.23]
D_BLUE_X = [6.70, 8.375]
D_BLUE_Y = [2.30, -0.20]
D_SPARSE = [
    (7.041, 8.75), (7.122, 7.87), (7.041, 7.46), (7.068, 7.46), (7.148, 6.9), (6.908, 7.05), (7.059, 6.74),
    (7.059, 6.52), (7.068, 6.45), (7.229, 6.41), (6.746, 6.17), (6.969, 6.58), (6.889, 6.41), (7.024, 6.27),
    (6.978, 6.01), (7.084, 6.11), (7.077, 6.03), (6.871, 5.87), (7.033, 5.87), (7.157, 5.87), (7.229, 5.78),
    (7.344, 5.78), (7.059, 5.62), (7.084, 5.62), (7.041, 5.46), (6.978, 5.46), (6.978, 5.38), (7.157, 5.46),
    (6.951, 5.38), (7.068, 5.29), (7.274, 5.21), (7.033, 5.13), (7.113, 5.05), (6.853, 5.05), (6.862, 5.05),
    (6.978, 5.13), (7.005, 5.03), (7.005, 4.97), (7.059, 5.0), (7.066, 4.95), (6.853, 4.89), (6.871, 4.89),
    (6.899, 4.89), (6.969, 4.97), (6.987, 4.97), (7.024, 4.74), (7.033, 4.74), (7.05, 4.74), (6.944, 4.8),
    (6.978, 4.72), (7.077, 4.8), (7.102, 4.66), (7.157, 4.8), (7.157, 4.72), (7.238, 4.89), (7.139, 4.56),
    (7.146, 4.6), (6.899, 4.49), (6.933, 4.41), (6.942, 4.48), (6.96, 4.41), (7.016, 4.41), (7.024, 4.46),
    (7.068, 4.49), (7.095, 4.49), (7.0, 4.33), (7.068, 4.33), (7.075, 4.25), (7.005, 4.17), (7.086, 4.2),
    (7.095, 4.17), (7.104, 4.2), (7.12, 4.25), (7.202, 4.25), (7.22, 4.25), (7.256, 4.41), (6.906, 4.25),
    (6.792, 4.25), (7.077, 4.0), (7.211, 4.0), (7.211, 3.84), (7.229, 3.68), (7.095, 3.76), (7.104, 3.76),
    (6.899, 3.62), (6.908, 3.68), (6.933, 3.59), (6.933, 3.51), (6.96, 3.68), (6.978, 3.59), (7.014, 3.56),
    (7.024, 3.59), (7.05, 3.51), (7.095, 3.59), (7.113, 3.59), (7.139, 3.43), (7.193, 3.43), (6.765, 3.51),
    (6.783, 3.84), (7.05, 3.35), (7.353, 3.27), (7.086, 3.27), (7.086, 3.05), (7.059, 2.94), (7.059, 2.72),
    (7.102, 2.94), (7.264, 2.94), (6.792, 2.8), (7.068, 2.48), (7.086, 2.56), (7.095, 2.64), (6.96, 2.64),
    (7.211, 2.39), (7.211, 2.23), (7.22, 2.53), (7.211, 2.15), (7.344, 2.15), (7.478, 2.31), (7.46, 1.99),
    (7.469, 1.74), (6.728, 1.45), (6.728, 1.29), (6.728, 0.64), (6.737, 0.47), (6.765, 1.35), (6.765, 1.09),
    (6.774, 1.05), (6.81, 1.45), (6.819, 1.59), (6.81, 0.94), (6.837, 0.94), (6.862, 1.05), (6.88, 1.59),
    (6.889, 1.45), (7.551, 2.56), (7.619, 2.15), (7.632, 2.07), (7.836, 2.23), (7.881, 2.39), (7.863, 1.82),
    (7.881, 1.9), (7.922, 1.82), (7.936, 1.7), (7.836, 1.66), (7.61, 1.74), (7.664, 1.66), (7.727, 1.66),
    (7.04, 1.75), (7.12, 1.7), (7.2, 1.68), (7.28, 1.72), (7.35, 1.65), (7.41, 1.6),
]
D_CLOUD = [
    (6.885, 0.7), (6.892, 1.05), (6.9, 0.85), (6.908, 0.6), (6.915, 1.15), (6.922, 0.75), (6.93, 0.45),
    (6.938, 1.0), (6.945, 0.62), (6.952, 1.2), (6.96, 0.38), (6.966, 0.88), (6.972, 1.25), (6.976, 0.55),
    (6.98, 0.3), (6.985, 0.95), (6.99, 0.7), (6.995, 1.35), (7.0, 0.45), (7.005, 1.1), (7.01, 0.65),
    (7.015, 0.25), (7.02, 0.9), (7.025, 1.4), (7.03, 0.5), (7.035, 0.8), (7.04, 1.15), (7.045, 0.35),
    (7.05, 0.7), (7.053, 1.3), (7.056, 0.5), (7.06, 0.95), (7.063, 0.2), (7.066, 1.15), (7.07, 0.65),
    (7.073, 0.4), (7.076, 1.45), (7.08, 0.8), (7.083, 0.3), (7.086, 1.05), (7.09, 0.55), (7.093, 1.6),
    (7.096, 0.75), (7.1, 0.15), (7.103, 1.2), (7.106, 0.45), (7.11, 0.9), (7.113, 1.4), (7.116, 0.6),
    (7.12, 0.28), (7.123, 1.05), (7.126, 0.7), (7.129, 1.5), (7.132, 0.4), (7.135, 0.85), (7.138, 0.1),
    (7.141, 1.25), (7.144, 0.55), (7.147, 0.95), (7.15, 0.3), (7.153, 1.35), (7.156, 0.72), (7.159, 0.48),
    (7.162, 1.1), (7.165, 0.2), (7.168, 0.82), (7.171, 1.5), (7.174, 0.6), (7.177, 1.0), (7.18, 0.35),
    (7.183, 1.25), (7.186, 0.68), (7.189, 0.15), (7.192, 0.9), (7.195, 1.4), (7.198, 0.5), (7.201, 1.15),
    (7.204, 0.3), (7.207, 0.78), (7.21, 1.5), (7.213, 0.55), (7.216, 0.1), (7.219, 1.0), (7.222, 0.42),
    (7.225, 1.3), (7.228, 0.7), (7.231, 0.25), (7.234, 0.92), (7.237, 1.45), (7.24, 0.6), (7.243, 1.1),
    (7.246, 0.35), (7.249, 0.8), (7.252, 0.18), (7.255, 1.2), (7.258, 0.5), (7.261, 0.98), (7.264, 1.55),
    (7.267, 0.3), (7.27, 0.72), (7.273, 1.05), (7.276, 0.45), (7.279, 1.3), (7.282, 0.6), (7.285, 0.22),
    (7.288, 0.9), (7.291, 1.4), (7.294, 0.5), (7.297, 1.1), (7.3, 0.35), (7.303, 0.8), (7.306, 1.25),
    (7.309, 0.15), (7.312, 0.65), (7.315, 1.0), (7.318, 0.42), (7.321, 1.5), (7.324, 0.75), (7.327, 0.28),
    (7.33, 1.15), (7.333, 0.55), (7.336, 0.9), (7.339, 0.2), (7.342, 1.35), (7.345, 0.62), (7.348, 1.05),
    (7.351, 0.4), (7.354, 0.85), (7.357, 1.2), (7.362, 0.5), (7.366, 0.95), (7.37, 0.3), (7.374, 1.3),
    (7.378, 0.7), (7.382, 1.05), (7.386, 0.45), (7.39, 0.2), (7.394, 0.85), (7.398, 1.45), (7.402, 0.6),
    (7.406, 1.1), (7.41, 0.38), (7.414, 0.8), (7.418, 1.25), (7.422, 0.55), (7.426, 0.15), (7.43, 0.95),
    (7.434, 0.65), (7.438, 1.35), (7.442, 0.42), (7.446, 1.0), (7.452, 0.75), (7.458, 1.2), (7.464, 0.3),
    (7.47, 0.9), (7.476, 1.5), (7.482, 0.55), (7.488, 1.05), (7.494, 0.7), (7.5, 1.35), (7.506, 0.4),
    (7.512, 0.95), (7.518, 1.2), (7.524, 0.62), (7.53, 0.25), (7.536, 1.1), (7.542, 0.8), (7.548, 1.45),
    (7.554, 0.5), (7.56, 1.0), (7.566, 0.72), (7.572, 1.3), (7.578, 0.38), (7.584, 0.88), (7.59, 1.15),
    (7.596, 0.6), (7.603, 1.4), (7.61, 0.8), (7.617, 1.05), (7.624, 0.45), (7.631, 1.25), (7.638, 0.7),
    (7.645, 1.5), (7.652, 0.95), (7.659, 0.35), (7.666, 1.15), (7.673, 0.6), (7.68, 1.35), (7.687, 0.85),
    (7.694, 1.1), (7.701, 0.5), (7.708, 1.6), (7.715, 0.75), (7.722, 1.2), (7.729, 0.4), (7.736, 0.95),
    (7.743, 1.3), (7.75, 0.65), (7.758, 1.05), (7.766, 1.45), (7.774, 0.55), (7.782, 0.9), (7.79, 1.25),
    (7.798, 0.7), (7.806, 1.55), (7.814, 1.0), (7.822, 0.45), (7.83, 1.3), (7.838, 0.8), (7.846, 1.15),
    (7.854, 0.6), (7.862, 1.4), (7.87, 0.95), (7.878, 0.35), (7.886, 1.2), (7.894, 0.75), (7.902, 1.05),
    (7.91, 0.5), (7.918, 1.35), (7.926, 0.85), (7.934, 1.1), (7.942, 0.6), (7.95, 0.95), (8.121, 1.9),
    (8.022, 1.66), (8.325, 1.29), (8.167, 1.13), (8.067, 1.05), (8.149, 1.0), (8.208, 0.88), (8.226, 1.13),
    (8.289, 0.64), (8.325, 0.56), (8.343, 0.39), (8.266, 0.39), (8.284, 0.47), (8.208, 0.39), (8.23, 0.43),
    (8.176, 0.39), (8.112, 0.39), (8.149, 0.64), (8.153, 0.6), (8.067, 0.64), (8.04, 0.47), (8.031, 0.64),
    (7.999, 0.23), (8.067, 0.84), (7.97, 0.8), (7.985, 1.2), (8.0, 0.55), (8.05, 1.3), (8.09, 0.9),
    (8.13, 0.75), (8.25, 1.0), (8.3, 1.1), (7.96, 1.45),
]
D_CORE = [
    (7.061, 0.42), (7.065, 0.85), (7.069, 0.2), (7.073, 0.63), (7.077, 1.08), (7.081, 0.35), (7.085, 0.74),
    (7.089, 0.52), (7.093, 0.15), (7.097, 0.95), (7.101, 0.45), (7.105, 0.68), (7.109, 1.2), (7.113, 0.28),
    (7.117, 0.82), (7.121, 0.55), (7.125, 0.18), (7.129, 0.98), (7.133, 0.4), (7.137, 0.7), (7.141, 0.25),
    (7.145, 1.12), (7.149, 0.6), (7.153, 0.88), (7.157, 0.33), (7.161, 0.5), (7.165, 1.0), (7.169, 0.2),
    (7.173, 0.75), (7.177, 0.45), (7.181, 1.25), (7.185, 0.58), (7.189, 0.3), (7.193, 0.85), (7.197, 0.65),
    (7.201, 0.12), (7.205, 1.05), (7.209, 0.4), (7.213, 0.72), (7.217, 0.28), (7.221, 0.92), (7.225, 0.5),
    (7.229, 1.18), (7.233, 0.35), (7.237, 0.62), (7.241, 0.18), (7.245, 0.8), (7.249, 0.45), (7.253, 1.02),
    (7.257, 0.25), (7.261, 0.68), (7.265, 0.88), (7.269, 0.4), (7.273, 0.15), (7.277, 0.58), (7.281, 1.1),
    (7.285, 0.32), (7.289, 0.75), (7.293, 0.5), (7.297, 0.95), (7.301, 0.22), (7.305, 0.62), (7.309, 0.42),
    (7.313, 1.2), (7.317, 0.3), (7.321, 0.85), (7.325, 0.55), (7.329, 0.12), (7.333, 0.7), (7.337, 1.0),
    (7.341, 0.38), (7.345, 0.6), (7.349, 0.25), (7.353, 0.9), (7.357, 0.48), (7.361, 0.72), (7.365, 0.18),
    (7.369, 1.08), (7.373, 0.42), (7.377, 0.62), (7.381, 0.3), (7.385, 0.82), (7.389, 0.52), (7.393, 1.15),
    (7.397, 0.35), (7.401, 0.68), (7.405, 0.2), (7.409, 0.9), (7.413, 0.5), (7.417, 0.75),
]
D_CORE2 = [
    (7.082, 0.58), (7.086, 0.28), (7.09, 0.92), (7.094, 0.4), (7.098, 0.65), (7.102, 0.2), (7.106, 0.85),
    (7.11, 0.5), (7.114, 0.32), (7.118, 1.05), (7.122, 0.42), (7.126, 0.62), (7.13, 0.15), (7.134, 0.78),
    (7.138, 0.5), (7.142, 0.95), (7.146, 0.3), (7.15, 0.68), (7.154, 0.45), (7.158, 0.22), (7.162, 0.88),
    (7.166, 0.55), (7.17, 0.35), (7.174, 1.0), (7.178, 0.62), (7.182, 0.18), (7.186, 0.8), (7.19, 0.45),
    (7.194, 0.28), (7.198, 0.72), (7.202, 0.52), (7.206, 0.92), (7.21, 0.2), (7.214, 0.6), (7.218, 0.38),
    (7.222, 0.82), (7.226, 0.15), (7.23, 0.55), (7.234, 1.02), (7.238, 0.32), (7.242, 0.7), (7.246, 0.48),
    (7.25, 0.85), (7.254, 0.22), (7.258, 0.62), (7.262, 0.4), (7.266, 0.95), (7.27, 0.18), (7.274, 0.75),
    (7.278, 0.52), (7.282, 0.3), (7.286, 0.88), (7.29, 0.45), (7.294, 0.65), (7.298, 0.15), (7.302, 0.8),
    (7.306, 0.4), (7.31, 0.58), (7.314, 0.25), (7.318, 0.98), (7.322, 0.5), (7.326, 0.7), (7.33, 0.35),
    (7.334, 0.85), (7.338, 0.18), (7.342, 0.55), (7.346, 0.42), (7.35, 0.75), (7.354, 0.28), (7.358, 0.62),
    (7.362, 0.9), (7.366, 0.4), (7.37, 0.58), (7.374, 0.2), (7.378, 0.78),
]

ONE = pd.DataFrame({"k": [0]})


def txt(s, x, y, size, weight="normal", align="left"):
    return alt.Chart(ONE).mark_text(
        text=s, font=FONT, fontSize=size, fontWeight=weight, align=align,
        baseline="alphabetic", color="black"
    ).encode(x=alt.value(x), y=alt.value(y))


def stat_line(sub, num, xr, xsub, xeq, xnum, yb):
    return [txt("r", xr, yb, 25), txt(sub, xsub, yb + 3, 16), txt("=", xeq, yb, 24),
            txt(num, xnum, yb, 25, "bold")]


def panel(points, red_x, red_y, blue_x, blue_y, xdom, ydom, W, H, ylabels, yticks,
          ysize, ypad, xsize, xpad, texts):
    pts = pd.DataFrame(points, columns=["x", "y"])
    red = pd.DataFrame({"x": red_x, "y": red_y})
    blue = pd.DataFrame({"x": blue_x, "y": blue_y})
    xt_minor = pd.DataFrame({"x": X_MINOR})
    yt_minor = pd.DataFrame({"y": yticks})
    yt_major = pd.DataFrame({"y": ylabels})
    xs = alt.Scale(domain=xdom, nice=False, zero=False)
    ys = alt.Scale(domain=ydom, nice=False, zero=False)
    y0 = H * ydom[1] / (ydom[1] - ydom[0])  # pixels from top to y = 0

    x_main = alt.Axis(values=X_LABELS, format=".1f", ticks=False, tickSize=0, grid=False,
                      domainColor=AXIS, domainWidth=1.2, labelColor=LABEL, labelFont=FONT,
                      labelFontSize=xsize, labelPadding=xpad, title=None, offset=-(H - y0),
                      labelFlush=False, labelOverlap=False)
    y_main = alt.Axis(values=ylabels, format="d", ticks=False, tickSize=0, grid=False,
                      domainColor=AXIS, domainWidth=1.2, labelColor=LABEL, labelFont=FONT,
                      labelFontSize=ysize, labelPadding=ypad, title=None, labelFlush=False,
                      labelOverlap=False)

    dots = alt.Chart(pts).mark_circle(size=38, color=PT_COLOR, opacity=1).encode(
        x=alt.X("x:Q", scale=xs, axis=x_main), y=alt.Y("y:Q", scale=ys, axis=y_main))
    x_tk = alt.Chart(xt_minor).mark_rule(color=AXIS, strokeWidth=1.2).encode(
        x=alt.X("x:Q", scale=xs, axis=None), y=alt.value(y0), y2=alt.value(y0 - 6))
    y_tk = alt.Chart(yt_minor).mark_rule(color=AXIS, strokeWidth=1.2).encode(
        y=alt.Y("y:Q", scale=ys, axis=None), x=alt.value(0), x2=alt.value(5))
    y_tk_major = alt.Chart(yt_major).mark_rule(color=AXIS, strokeWidth=1.2).encode(
        y=alt.Y("y:Q", scale=ys, axis=None), x=alt.value(0), x2=alt.value(8))
    bl = alt.Chart(blue).mark_line(color=BLUE, strokeWidth=5.5, clip=True).encode(
        x=alt.X("x:Q", scale=xs, axis=None), y=alt.Y("y:Q", scale=ys, axis=None))
    rd = alt.Chart(red).mark_line(color=RED, strokeWidth=6, clip=True, interpolate="monotone").encode(
        x=alt.X("x:Q", scale=xs, axis=None), y=alt.Y("y:Q", scale=ys, axis=None))
    return alt.layer(dots, x_tk, y_tk, y_tk_major, bl, rd, *texts).resolve_axis(
        x="independent", y="independent").properties(width=W, height=H)


pa = panel(A_SPARSE + A_RIGHT + A_CLOUD + A_CORE + A_CORE2, A_RED_X, A_RED_Y, A_BLUE_X, A_BLUE_Y,
           [6.70, 8.374], [-0.1, 6.68], 641, 388, A_YLABELS, A_YTICKS, 28, 11, 27, 13,
           [txt("(a)", 330, 39, 42, align="center"), txt("Missense", 514, 45, 31, align="center")]
           + stat_line("linear", "-0.33", 448, 456, 500, 525, 75)
           + stat_line("non-linear", "0.47", 439, 447, 523, 547, 107))

pb = panel(B_SPARSE + B_CLOUD + B_CORE + B_CORE2, B_RED_X, B_RED_Y, B_BLUE_X, B_BLUE_Y,
           [6.71, 8.356], [-0.33, 12.54], 630, 390, B_YLABELS, B_YTICKS, 26, 6, 27, 15,
           [txt("(b)", 312, 37, 42, align="center"), txt("Synonymous", 477, 40, 30, align="center")]
           + stat_line("linear", "-0.34", 412, 420, 464, 488, 72)
           + stat_line("non-linear", "0.49", 397, 405, 481, 509, 102))

pc = panel(C_SPARSE + C_CLOUD + C_CORE + C_CORE2, C_RED_X, C_RED_Y, C_BLUE_X, C_BLUE_Y,
           [6.708, 8.385], [-2.9, 30.6], 654, 412, C_YLABELS, C_YTICKS, 23, 4, 25, 14,
           [txt("(c)", 336, 17, 42, align="center"), txt("Intron", 526, -5, 30, align="center")]
           + stat_line("linear", "-0.36", 461, 469, 513, 536, 27)
           + stat_line("non-linear", "0.47", 450, 458, 534, 557, 57))

pd_ = panel(D_SPARSE + D_CLOUD + D_CORE + D_CORE2, D_RED_X, D_RED_Y, D_BLUE_X, D_BLUE_Y,
            [6.70, 8.375], [-0.2, 9.26], 616, 386, D_YLABELS, D_YTICKS, 28, 12, 29, 15,
            [txt("(d)", 310, 15, 42, align="center"), txt("UTR", 477, -8, 29, align="center")]
            + stat_line("linear", "-0.34", 412, 420, 464, 488, 23)
            + stat_line("non-linear", "0.43", 400, 408, 484, 509, 55))

chart = alt.concat(pa, pb, pc, pd_, columns=2, spacing={"row": 117, "column": 84},
                   align="each", bounds="flush").properties(padding=0).configure_view(stroke=None)

chart.save("out.html", embed_options={"renderer": "svg", "actions": False})
